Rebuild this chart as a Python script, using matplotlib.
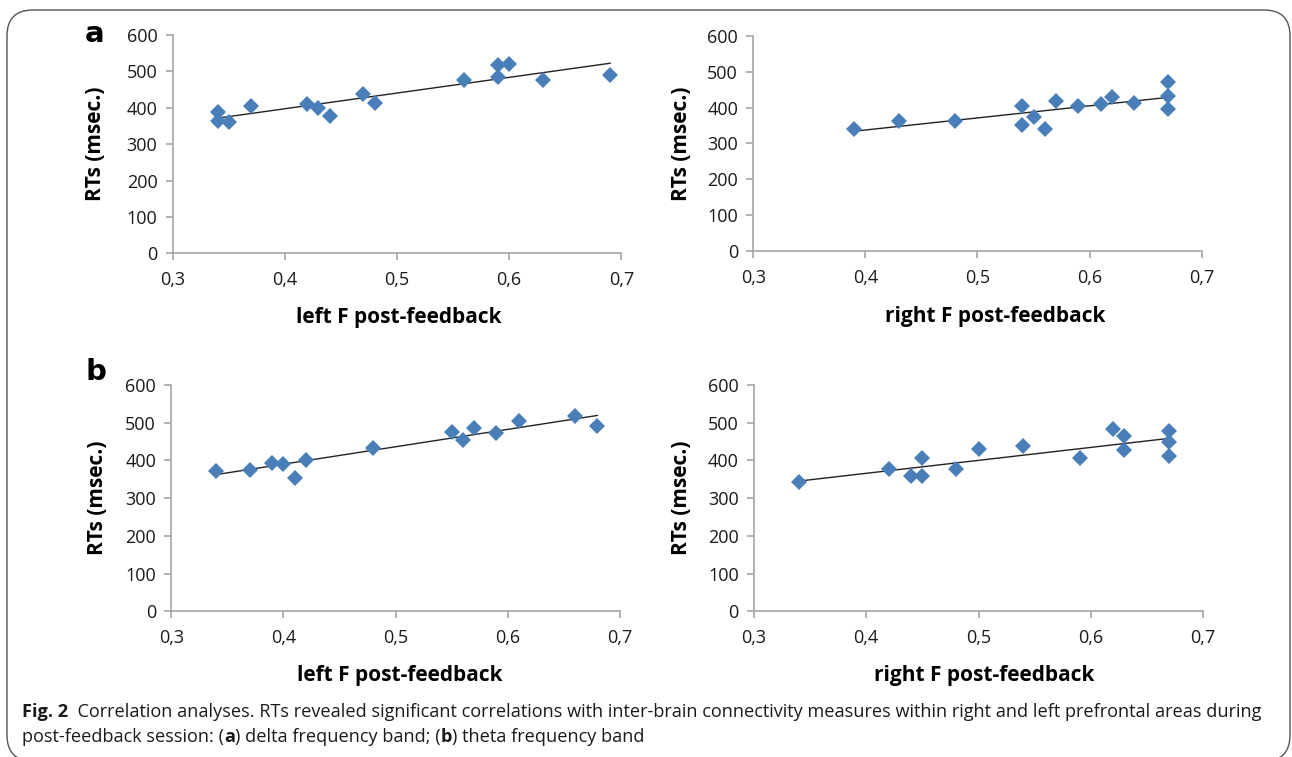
import numpy as np
import matplotlib
matplotlib.use("Agg")
import matplotlib.pyplot as plt
from matplotlib.patches import FancyBboxPatch
from matplotlib.ticker import FuncFormatter

# panel a: delta band, panel b: theta band
a_left_x = [0.34, 0.34, 0.35, 0.37, 0.42, 0.43, 0.44, 0.47, 0.48, 0.56, 0.59, 0.59, 0.60, 0.63, 0.69]
a_left_y = [387, 365, 360, 406, 411, 398, 378, 437, 414, 476, 518, 485, 521, 475, 489]

a_right_x = [0.39, 0.43, 0.48, 0.54, 0.54, 0.55, 0.56, 0.57, 0.59, 0.61, 0.62, 0.64, 0.67, 0.67, 0.67]
a_right_y = [340, 364, 364, 405, 353, 373, 340, 419, 406, 410, 431, 414, 471, 433, 395]

b_left_x = [0.34, 0.37, 0.39, 0.40, 0.41, 0.42, 0.48, 0.55, 0.56, 0.57, 0.59, 0.61, 0.66, 0.68]
b_left_y = [373, 375, 394, 391, 353, 401, 434, 475, 453, 485, 473, 505, 518, 491]

b_right_x = [0.34, 0.42, 0.44, 0.45, 0.45, 0.48, 0.50, 0.54, 0.59, 0.62, 0.63, 0.63, 0.67, 0.67, 0.67]
b_right_y = [343, 376, 359, 406, 359, 376, 429, 437, 406, 484, 466, 428, 479, 450, 411]

x_ticks = [0.3, 0.4, 0.5, 0.6, 0.7]
y_ticks = [0, 100, 200, 300, 400, 500, 600]

W, H = 1292, 757
fig = plt.figure(figsize=(W / 100, H / 100), dpi=100)
plt.rcParams["font.family"] = ["Open Sans", "DejaVu Sans"]

blue = "#4a7ebb"
gray = "#a6a6a6"


def px_axes(x0, y0, x1, y1):
    return fig.add_axes([x0 / W, 1 - y1 / H, (x1 - x0) / W, (y1 - y0) / H])


# data, axes box in pixels, xlabel, ylabel x pos, xlabel (x, y) pos
panels = [
    (a_left_x, a_left_y, (172.7, 35, 621.3, 253.3), "left F post-feedback", -0.148, (0.505, -0.246)),
    (a_right_x, a_right_y, (753.3, 36, 1201.7, 251), "right F post-feedback", -0.136, (0.54, -0.256)),
    (b_left_x, b_left_y, (171.3, 385, 619.7, 611.3), "left F post-feedback", -0.141, (0.51, -0.237)),
    (b_right_x, b_right_y, (754, 385, 1203, 611.3), "right F post-feedback", -0.138, (0.513, -0.237)),
]

for xs, ys, box, xlab, ylx, xlpos in panels:
    ax = px_axes(*box)
    xs = np.array(xs)
    ys = np.array(ys)
    k, b = np.polyfit(xs, ys, 1)
    lx = np.array([xs.min(), xs.max()])
    ax.plot(lx, k * lx + b, color="#222222", lw=1.0, zorder=2)
    ax.plot(xs, ys, "D", color=blue, markersize=8.5, markeredgewidth=0, zorder=3)
    ax.set_xlim(0.3, 0.7)
    ax.set_ylim(0, 600)
    ax.set_xticks(x_ticks)
    ax.set_yticks(y_ticks)
    ax.xaxis.set_major_formatter(FuncFormatter(lambda v, p: f"{v:.1f}".replace(".", ",")))
    for s in ["top", "right"]:
        ax.spines[s].set_visible(False)
    for s in ["left", "bottom"]:
        ax.spines[s].set_color(gray)
        ax.spines[s].set_linewidth(1.2)
    ax.tick_params(axis="both", direction="out", length=5, width=1.2, color=gray,
                   labelsize=13, labelcolor="#1a1a1a")
    ax.tick_params(axis="x", pad=8)
    ax.tick_params(axis="y", pad=6)
    ax.set_xlabel(xlab, fontsize=15, fontweight="bold")
    ax.set_ylabel("RTs (msec.)", fontsize=15, fontweight="bold")
    ax.xaxis.set_label_coords(*xlpos)
    ax.yaxis.set_label_coords(ylx, 0.5)
    ax.patch.set_alpha(0)

fig.text(85 / W, 1 - 42 / H, "a", fontsize=21, fontweight="bold", family="DejaVu Sans")
fig.text(85 / W, 1 - 380 / H, "b", fontsize=21, fontweight="bold", family="DejaVu Sans")

# border
fig.patches.append(FancyBboxPatch((7 / W, -4 / H), 1283 / W, 751 / H,
                                  boxstyle="round,pad=0,rounding_size=0.02",
                                  transform=fig.transFigure, fill=False,
                                  edgecolor="#555555", lw=1.0,
                                  mutation_aspect=W / H))

# caption with mixed weights
fig.canvas.draw()
renderer = fig.canvas.get_renderer()


def caption_line(x, y, parts, size=13.1):
    for txt, wt in parts:
        t = fig.text(x / W, 1 - y / H, txt, fontsize=size, fontweight=wt,
                     color="#1a1a1a", va="baseline")
        bb = t.get_window_extent(renderer)
        x = bb.x1


caption_line(22, 717, [("Fig. 2", "bold"),
                       ("  Correlation analyses. RTs revealed significant correlations with inter-brain "
                        "connectivity measures within right and left prefrontal areas during", "normal")])
caption_line(22, 742, [("post-feedback session: (", "normal"), ("a", "bold"),
                       (") delta frequency band; (", "normal"), ("b", "bold"),
                       (") theta frequency band", "normal")])

fig.savefig("out.png", dpi=100)
